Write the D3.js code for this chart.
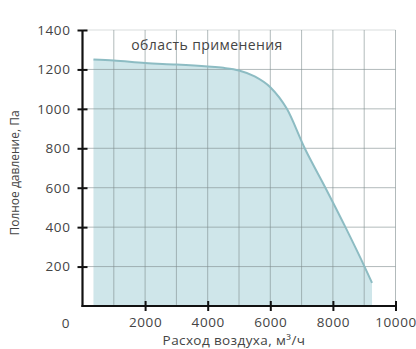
<!DOCTYPE html>
<html><head><meta charset="utf-8">
<script src="https://cdn.jsdelivr.net/npm/d3@7"></script>
<style>
html,body{margin:0;padding:0;background:#fff;}
#wrap{position:relative;width:416px;height:349px;}
#wrap svg{position:absolute;left:0;top:0;}
svg text{font-family:"Open Sans",sans-serif;fill:#444;}
</style></head>
<body>
<div id="wrap">
<svg id="c" width="416" height="349"></svg>
<svg id="ax" width="416" height="349"></svg>
</div>
<script>
const flow = [350, 1000, 2000, 3000, 4000, 4500, 5000, 5500, 6000, 6530, 7100, 7760, 8400, 9010, 9250];
const pressure = [1250, 1245, 1232, 1225, 1215, 1208, 1195, 1165, 1110, 1000, 800, 600, 400, 200, 117];
const xTicks = [2000, 4000, 6000, 8000, 10000];
const yTicks = [200, 400, 600, 800, 1000, 1200, 1400];
const xGrid = [1000,2000,3000,4000,5000,6000,7000,8000,9000,10000];
const yGrid = [200,400,600,800,1000,1200];
const yTop = 1400;
const title = "область применения";
const xLabel = "Расход воздуха, м³/ч";
const yLabel = "Полное давление, Па";

const svg = d3.select("#c");
const x = d3.scaleLinear().domain([0,10000]).range([82.5,395.5]);
const y = d3.scaleLinear().domain([0,1400]).range([306,30]);
const pts = flow.map((f,i)=>[f,pressure[i]]);

// fill area
const area = d3.area().x(d=>x(d[0])).y0(y(0)-1.1).y1(d=>y(d[1])).curve(d3.curveMonotoneX);
svg.append("path").attr("d", area(pts)).attr("fill","#cfe6ea");

// grid
const x0 = x(0)+1.1, yb = y(0)-1.1;
svg.append("g").selectAll("line").data(xGrid).join("line")
  .attr("x1",d=>x(d)).attr("x2",d=>x(d)).attr("y1",yb).attr("y2",y(1400))
  .attr("stroke","#7f8c8e").attr("stroke-opacity",0.6).attr("stroke-width",1);
svg.append("g").selectAll("line").data(yGrid).join("line")
  .attr("x1",x0).attr("x2",x(10000)).attr("y1",d=>y(d)).attr("y2",d=>y(d))
  .attr("stroke","#7f8c8e").attr("stroke-opacity",0.6).attr("stroke-width",1);
svg.append("line").attr("x1",x0).attr("x2",x(10000)).attr("y1",y(yTop)).attr("y2",y(yTop))
  .attr("stroke","#7f8c8e").attr("stroke-opacity",0.3).attr("stroke-width",1);

// curve outline
const curveLine = d3.line().x(d=>x(d[0])).y(d=>y(d[1])).curve(d3.curveMonotoneX);
svg.append("path").attr("d", curveLine(pts)).attr("fill","none").attr("stroke","#8dbcc3").attr("stroke-width",2);

svg.append("text").attr("x",x(0)-17).attr("y",y(0)+22).attr("text-anchor","middle").attr("font-size",13.5).text("0");
svg.append("text").attr("x",207).attr("y",50).attr("text-anchor","middle").attr("font-size",14).attr("letter-spacing",0.4).attr("fill","#333").text(title);
svg.append("text").attr("x",234).attr("y",345).attr("text-anchor","middle").attr("font-size",13.5).attr("letter-spacing",0.4).text(xLabel);
svg.append("text").attr("transform","translate(19,173) rotate(-90)").attr("text-anchor","middle").attr("font-size",12).text(yLabel);

// axes on overlay svg, drawn last
const ax = d3.select("#ax");
const xAxis = d3.axisBottom(x).tickValues(xTicks).tickSizeInner(5).tickSizeOuter(0).tickFormat(d3.format("d"));
const gx = ax.append("g").attr("transform",`translate(0,${y(0)})`).call(xAxis);
gx.select(".domain").attr("d",`M${x(0)-1},0H${x(10000)}`).attr("stroke","#111").attr("stroke-width",2.2);
gx.selectAll(".tick line").attr("y1",-5).attr("y2",5).attr("stroke","#111").attr("stroke-width",2);
gx.selectAll(".tick text").attr("dy",0).attr("y",21).attr("font-size",13.5).attr("letter-spacing",0.6);

const yAxis = d3.axisLeft(y).tickValues(yTicks).tickSizeInner(5).tickSizeOuter(0).tickFormat(d3.format("d"));
const gy = ax.append("g").attr("transform",`translate(${x(0)},0)`).call(yAxis);
gy.select(".domain").attr("d",`M0,${y(1400)}V${y(0)+1}`).attr("stroke","#111").attr("stroke-width",2.2);
gy.selectAll(".tick line").attr("x1",-5).attr("x2",5).attr("stroke","#111").attr("stroke-width",2);
gy.selectAll(".tick text").attr("x",-12).attr("font-size",13.5).attr("letter-spacing",0.6);
</script>
</body></html>
